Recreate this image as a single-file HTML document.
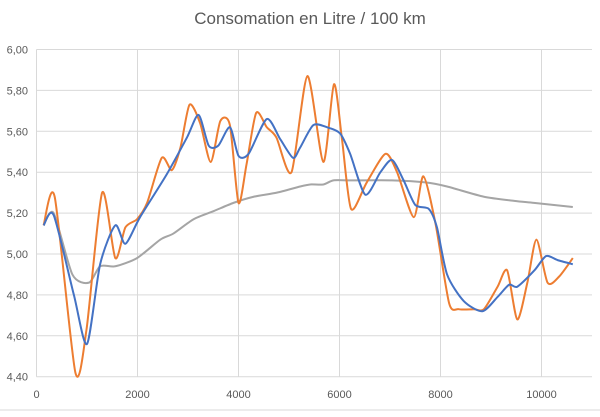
<!DOCTYPE html>
<html><head><meta charset="utf-8"><style>
body{margin:0;background:#fff;}
svg text{font-family:"Liberation Sans",sans-serif;fill:#595959;}
</style></head><body>
<svg id="chart" width="600" height="412" xmlns="http://www.w3.org/2000/svg">
<rect width="600" height="412" fill="#fff"/>
<text x="310" y="24" font-size="17" text-anchor="middle">Consomation en Litre / 100 km</text>
<g id="grid"></g><g id="series"></g>
</svg>
<script>
const yTicks=[4.4,4.6,4.8,5.0,5.2,5.4,5.6,5.8,6.0];
const xTicks=[0,2000,4000,6000,8000,10000];
const orangeX=[140,360,770,990,1300,1560,1760,1990,2190,2480,2680,2850,3030,3240,3450,3640,3830,4000,4160,4350,4560,4750,5050,5365,5680,5890,6050,6230,6540,6910,7140,7470,7660,7900,8170,8360,8660,8860,9130,9320,9520,9720,9900,10120,10350,10620];
const orangeY=[5.14,5.28,4.42,4.63,5.30,4.98,5.13,5.17,5.25,5.47,5.41,5.52,5.73,5.64,5.45,5.65,5.63,5.25,5.44,5.69,5.62,5.57,5.40,5.87,5.45,5.83,5.56,5.22,5.35,5.49,5.40,5.18,5.38,5.15,4.76,4.73,4.73,4.73,4.84,4.92,4.68,4.86,5.07,4.86,4.89,4.98];
const blueX=[140,340,740,1000,1260,1560,1760,2050,2580,2980,3210,3410,3600,3830,4000,4200,4560,4830,5080,5220,5480,5750,6010,6210,6510,6810,7040,7270,7500,7770,7930,8130,8460,8830,9130,9360,9520,9860,10090,10320,10620];
const blueY=[5.14,5.19,4.80,4.56,4.95,5.14,5.05,5.18,5.39,5.57,5.68,5.53,5.53,5.62,5.48,5.49,5.66,5.56,5.47,5.52,5.63,5.62,5.59,5.49,5.29,5.40,5.46,5.36,5.24,5.22,5.13,4.90,4.77,4.72,4.79,4.85,4.84,4.92,4.99,4.97,4.95];
const grayX=[140,340,710,1040,1260,1560,1990,2450,2710,3110,3510,3900,4300,4760,5220,5420,5680,5880,6210,7040,7700,8130,8860,9460,9850,10620];
const grayY=[5.14,5.20,4.90,4.86,4.94,4.94,4.98,5.07,5.10,5.17,5.21,5.25,5.28,5.30,5.33,5.34,5.34,5.36,5.36,5.36,5.35,5.33,5.28,5.26,5.25,5.23];
const X0=36.5,X1=592,Y0=376.7,Y1=49.5;
const sx=v=>X0+(v/11000)*(X1-X0);
const sy=v=>Y0-(v-4.4)/1.6*(Y0-Y1);
const NS="http://www.w3.org/2000/svg";
const grid=document.getElementById('grid');
function mk(tag,attrs,parent){const e=document.createElementNS(NS,tag);for(const k in attrs)e.setAttribute(k,attrs[k]);parent.appendChild(e);return e;}
yTicks.forEach(t=>{
 const l=mk('line',{x1:X0,x2:X1,y1:sy(t),y2:sy(t),stroke:'#d9d9d9','stroke-width':1},grid);
 
 
 const tx=mk('text',{x:28,y:sy(t)+4,'font-size':11,'text-anchor':'end'},grid);
 tx.textContent=t.toFixed(2).replace('.',',');
 
 
});
xTicks.forEach(t=>{
 const l=mk('line',{x1:sx(t),x2:sx(t),y1:Y1,y2:Y0,stroke:'#d9d9d9','stroke-width':1},grid);
 
 
 const tx=mk('text',{x:sx(t),y:398,'font-size':11,'text-anchor':'middle'},grid);
 tx.textContent=String(t);
 
 
});
mk('line',{x1:0,x2:600,y1:410,y2:410,stroke:'#d9d9d9'},grid);
function path(xs,ys){
 const p=xs.map((x,i)=>[sx(x),sy(ys[i])]);
 const k=8;
 let d='M'+p[0][0]+','+p[0][1];
 for(let i=0;i<p.length-1;i++){
  const a=p[Math.max(i-1,0)],b=p[i],c=p[i+1],e=p[Math.min(i+2,p.length-1)];
  const c1=[b[0]+(c[0]-a[0])/k,b[1]+(c[1]-a[1])/k],c2=[c[0]-(e[0]-b[0])/k,c[1]-(e[1]-b[1])/k];
  d+=' C'+c1+' '+c2+' '+c;
 }
 return d;
}
const ser=document.getElementById('series');
[[grayX,grayY,'#a5a5a5','series-average'],[orangeX,orangeY,'#ed7d31','series-instant'],[blueX,blueY,'#4472c4','series-smoothed']].forEach(s=>{
 const pth=mk('path',{d:path(s[0],s[1]),fill:'none',stroke:s[2],'stroke-width':2,'stroke-linejoin':'round'},ser);
 
 
});
</script>
</body></html>
